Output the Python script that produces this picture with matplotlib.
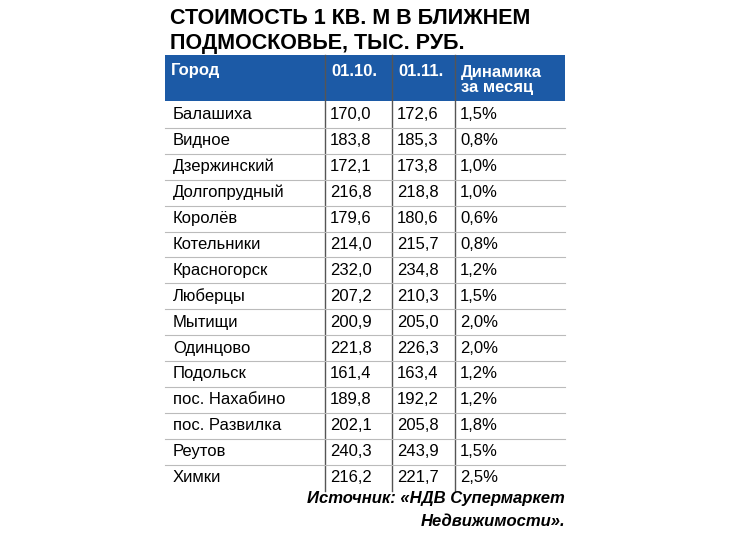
import matplotlib
matplotlib.use("Agg")
import matplotlib.pyplot as plt

title_lines = ["СТОИМОСТЬ 1 КВ. М В БЛИЖНЕМ", "ПОДМОСКОВЬЕ, ТЫС. РУБ."]
headers = ["Город", "01.10.", "01.11.", "Динамика\nза месяц"]
cities = ["Балашиха", "Видное", "Дзержинский", "Долгопрудный", "Королёв", "Котельники",
          "Красногорск", "Люберцы", "Мытищи", "Одинцово", "Подольск", "пос. Нахабино",
          "пос. Развилка", "Реутов", "Химки"]
oct_vals = [170.0, 183.8, 172.1, 216.8, 179.6, 214.0, 232.0, 207.2, 200.9, 221.8, 161.4, 189.8, 202.1, 240.3, 216.2]
nov_vals = [172.6, 185.3, 173.8, 218.8, 180.6, 215.7, 234.8, 210.3, 205.0, 226.3, 163.4, 192.2, 205.8, 243.9, 221.7]
dyn_vals = [1.5, 0.8, 1.0, 1.0, 0.6, 0.8, 1.2, 1.5, 2.0, 2.0, 1.2, 1.2, 1.8, 1.5, 2.5]
source_lines = ["Источник: «НДВ Супермаркет", "Недвижимости»."]

def fmt(v):
    return f"{v:.1f}".replace(".", ",")

fig = plt.figure(figsize=(7.39, 5.39), dpi=100)
ax = fig.add_axes([0, 0, 1, 1])
ax.set_xlim(0, 739); ax.set_ylim(539, 0); ax.axis("off")

fam = ["Liberation Sans", "DejaVu Sans"]
x0, x1, x2, x3, x4 = 165, 325, 392, 455, 565
for i, t in enumerate(title_lines):
    ax.text(170, 19 + i * 25, t, fontsize=15.5, fontweight="heavy", family=fam, va="center", ha="left")

hy0, hy1 = 55, 101
ax.add_patch(plt.Rectangle((x0, hy0), x4 - x0, hy1 - hy0, color="#1c5aa6", lw=0))
ax.text(x0 + 6, 71, headers[0], color="white", fontsize=12, fontweight="bold", family=fam, va="center")
ax.text(x1 + 6, 71, headers[1], color="white", fontsize=12, fontweight="bold", family=fam, va="center")
ax.text(x2 + 6, 71, headers[2], color="white", fontsize=12, fontweight="bold", family=fam, va="center")
ax.text(x3 + 6, 80, headers[3], color="white", fontsize=12, fontweight="bold", family=fam, va="center", linespacing=1.0)

rh = 25.9
top = 102
for j in (x1, x2, x3):
    ax.plot([j, j], [hy0, top + rh * len(cities)], color="#555555", lw=1)
for i, c in enumerate(cities):
    yc = top + rh * i + rh / 2
    if i > 0:
        ax.plot([x0, x4], [top + rh * i] * 2, color="#bbbbbb", lw=0.8)
    ax.text(x0 + 8, yc, c, fontsize=12, family=fam, va="center")
    ax.text(x1 + 5, yc, fmt(oct_vals[i]), fontsize=12, family=fam, va="center")
    ax.text(x2 + 5, yc, fmt(nov_vals[i]), fontsize=12, family=fam, va="center")
    ax.text(x3 + 5, yc, fmt(dyn_vals[i]) + "%", fontsize=12, family=fam, va="center")

for i, t in enumerate(source_lines):
    ax.text(x4, 499 + i * 23, t, fontsize=12, fontweight="bold", style="italic", family=fam, va="center", ha="right")

fig.savefig("out.png", dpi=100)
